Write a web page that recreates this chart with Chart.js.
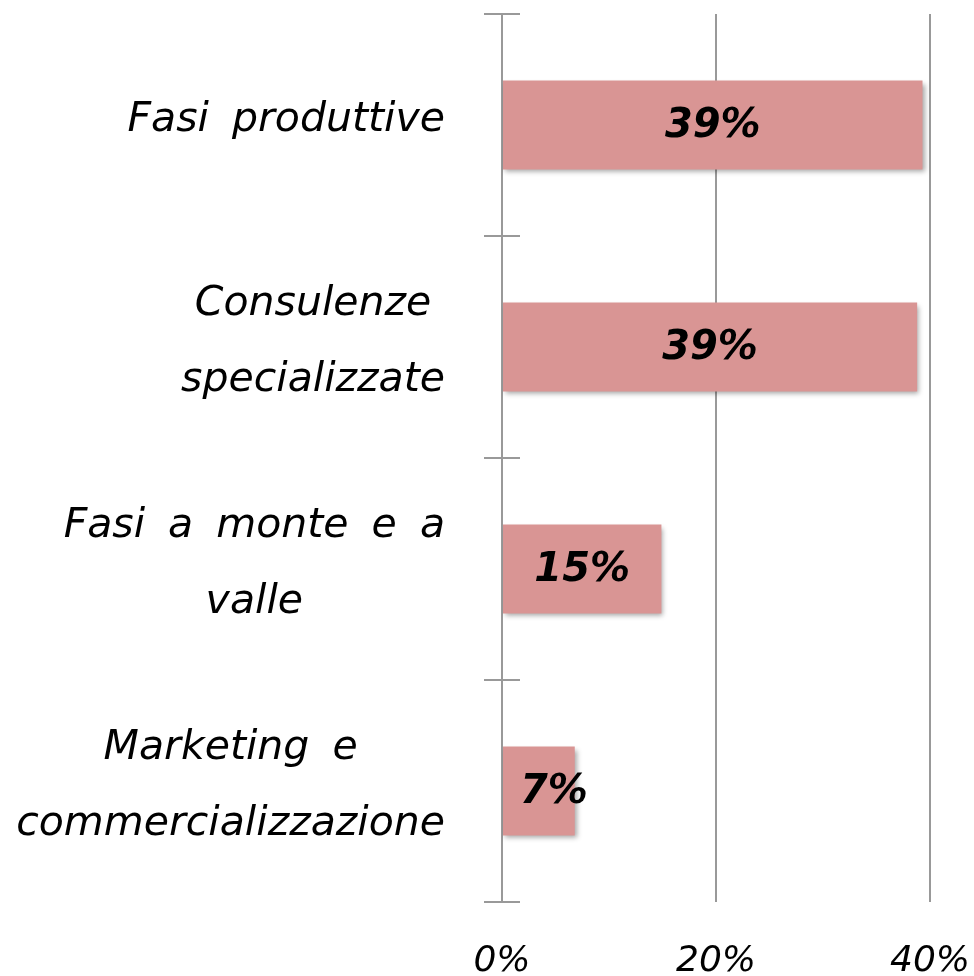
<!DOCTYPE html>
<html>
<head>
<meta charset="utf-8">
<script src="https://cdn.jsdelivr.net/npm/chart.js@4.4.1/dist/chart.umd.min.js"></script>
<style>
  html, body { margin: 0; padding: 0; background: #fff; }
  #box { width: 974px; height: 976px; }
</style>
</head>
<body>
<div id="box"><canvas id="grafico"></canvas></div>
<script>
// dati
const categorie = [
  ['Fasi produttive'],
  ['Consulenze', 'specializzate'],
  ['Fasi a monte e a', 'valle'],
  ['Marketing e', 'commercializzazione']
];
const valori = [39.3, 38.8, 14.9, 6.8];
const tickX = [0, 20, 40];

const FONT = '"DejaVu Sans", sans-serif';
const GRIGIO = '#999999';

// etichette delle categorie: righe centrate, blocco allineato a destra
const etichetteY = {
  id: 'etichetteY',
  afterDraw(chart) {
    const ctx = chart.ctx;
    const y = chart.scales.y;
    const destra = y.right - 57;
    const lh = 76;
    ctx.save();
    ctx.font = 'italic 41px ' + FONT;
    ctx.wordSpacing = '10px';
    ctx.fillStyle = '#000';
    ctx.textAlign = 'center';
    ctx.textBaseline = 'middle';
    categorie.forEach((righe, i) => {
      const larg = Math.max(...righe.map(r => ctx.measureText(r).width));
      const cx = destra - larg / 2;
      const cy = y.getPixelForValue(i) - 5;
      righe.forEach((r, j) => {
        ctx.fillText(r, cx, cy + (j - (righe.length - 1) / 2) * lh);
      });
    });
    ctx.wordSpacing = '0px';
    // trattini che attraversano l'asse
    ctx.strokeStyle = GRIGIO;
    ctx.lineWidth = 2;
    for (let i = 0; i <= categorie.length; i++) {
      const py = Math.round(y.getPixelForValue(i - 0.5));
      ctx.beginPath();
      ctx.moveTo(chart.chartArea.left - 18, py);
      ctx.lineTo(chart.chartArea.left + 18, py);
      ctx.stroke();
    }
    ctx.restore();
  }
};

// ombra delle barre + valori dentro
const ombraBarre = {
  id: 'ombraBarre',
  beforeDatasetDraw(chart) {
    const ctx = chart.ctx;
    ctx.save();
    ctx.shadowColor = 'rgba(0,0,0,0.35)';
    ctx.shadowBlur = 5;
    ctx.shadowOffsetX = 2;
    ctx.shadowOffsetY = 3;
  },
  afterDatasetDraw(chart) {
    chart.ctx.restore();
  },
  afterDatasetsDraw(chart) {
    const ctx = chart.ctx;
    const meta = chart.getDatasetMeta(0);
    ctx.save();
    ctx.font = 'italic bold 40px ' + FONT;
    ctx.fillStyle = '#000';
    ctx.textAlign = 'center';
    ctx.textBaseline = 'middle';
    meta.data.forEach((bar, i) => {
      const testo = Math.round(valori[i]) + '%';
      const w = ctx.measureText(testo).width;
      let cx = (bar.base + bar.x) / 2;
      if (cx - w / 2 < chart.chartArea.left + 18) cx = chart.chartArea.left + 18 + w / 2;
      ctx.fillText(testo, cx, bar.y + 2);
    });
    ctx.restore();
  }
};

new Chart(document.getElementById('grafico'), {
  type: 'bar',
  data: {
    labels: categorie,
    datasets: [{
      data: valori,
      backgroundColor: '#d99594',
      borderWidth: 0,
      categoryPercentage: 1,
      barPercentage: 0.4
    }]
  },
  options: {
    indexAxis: 'y',
    responsive: true,
    maintainAspectRatio: false,
    animation: false,
    layout: { padding: { top: 14, right: 44, left: 0, bottom: 0 } },
    plugins: { legend: { display: false }, tooltip: { enabled: false } },
    scales: {
      x: {
        min: 0,
        max: 40,
        afterBuildTicks(scale) { scale.ticks = tickX.map(v => ({ value: v })); },
        afterFit(scale) {
          scale.height = 74;
          scale.paddingLeft = 0;
          scale.paddingRight = 0;
        },
        border: { display: false },
        grid: {
          drawTicks: false,
          lineWidth: 2,
          color: ctx => (ctx.tick && ctx.tick.value === 0) ? 'rgba(0,0,0,0)' : GRIGIO
        },
        ticks: {
          padding: 38,
          color: '#000',
          font: { family: FONT, size: 36, style: 'italic' },
          callback: v => v + '%'
        }
      },
      y: {
        afterFit(scale) { scale.width = 502; },
        border: { display: true, color: GRIGIO, width: 2 },
        grid: { display: false },
        ticks: { display: false }
      }
    }
  },
  plugins: [etichetteY, ombraBarre]
});
</script>
</body>
</html>
